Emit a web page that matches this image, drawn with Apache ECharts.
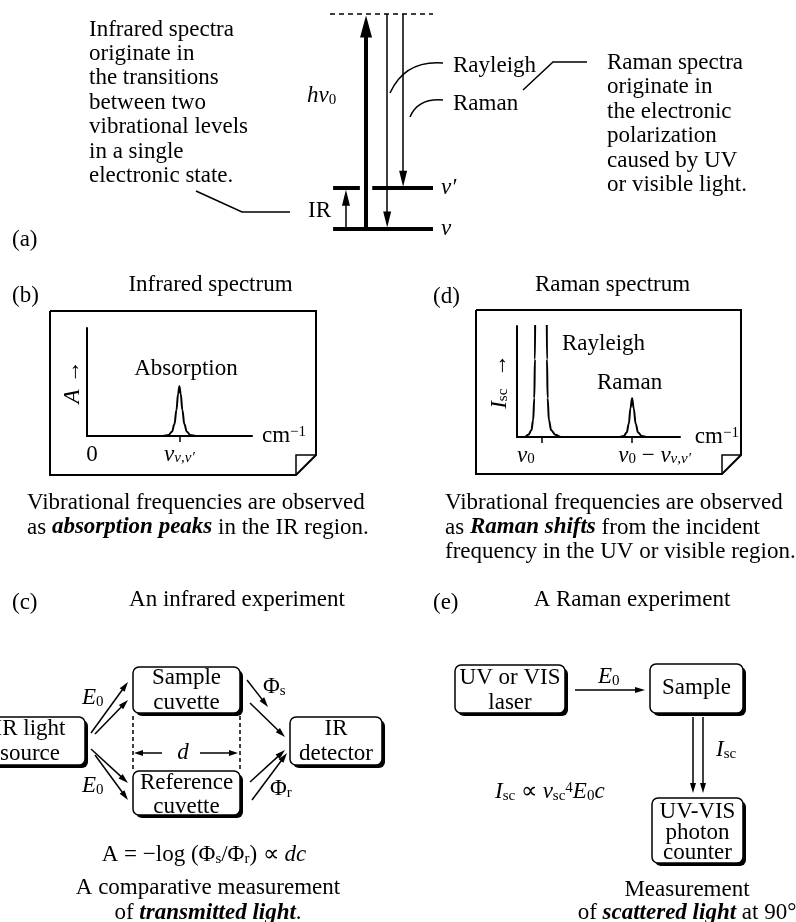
<!DOCTYPE html>
<html>
<head>
<meta charset="utf-8">
<script src="https://cdn.jsdelivr.net/npm/echarts@6/dist/echarts.min.js"></script>
<style>
	html, body { margin: 0; padding: 0; background: #fff; }
	#chart { width: 796px; height: 922px; }
</style>
</head>
<body>
<div id="chart"></div>
<script>
(function () {

	// (a) energy levels and transitions
	var levelNames  = ['ν', 'ν′', ''];
	var levelEnergy = [0, 1.9, 10];
	var transitionNames = ['IR', 'hν0', 'Rayleigh', 'Raman'];
	var transitionFrom  = [0, 0, 2, 2];
	var transitionTo    = [1, 2, 0, 1];

	// (b) infrared spectrum
	var irWavenumber  = [0, 46, 49.5, 51.5, 53, 54.2, 55.2, 56, 56.8, 57.8, 59, 60.5, 62.5, 66, 100];
	var irAbsorbance  = [0, 0, 0.01, 0.04, 0.11, 0.24, 0.39, 0.46, 0.39, 0.24, 0.11, 0.04, 0.01, 0, 0];
	var irPeaks       = [56];

	// (d) raman spectrum
	var ramanWavenumber = [0, 4.5, 7, 8.8, 9.9, 10.6, 11, 11.3, 14.7, 18.1, 18.4, 18.8, 19.6, 21, 23.5, 27,
		63, 65.5, 67.3, 68.6, 69.6, 70.6, 71.6, 72.8, 74.3, 76.5, 80, 100];
	var ramanIntensity  = [0, 0, 0.02, 0.06, 0.15, 0.35, 0.7, 1.5, 8, 1.5, 0.7, 0.35, 0.15, 0.06, 0.02, 0,
		0, 0.01, 0.04, 0.12, 0.26, 0.35, 0.26, 0.12, 0.04, 0.01, 0, 0];
	var ramanPeaks      = [15.3, 70.6];

	var FONT = '"Liberation Serif", "Times New Roman", serif';
	function f(size, style) { return (style ? style + ' ' : '') + size + 'px ' + FONT; }

	var RICH = {
		i:    { font: f(23, 'italic') },
		bi:   { font: f(23, 'italic bold') },
		sub:  { font: f(15), verticalAlign: 'bottom', lineHeight: 15 },
		isub: { font: f(15, 'italic'), verticalAlign: 'bottom', lineHeight: 15 },
		sup:  { font: f(15), verticalAlign: 'top', lineHeight: 15 }
	};
	var ERICH = {
		i:    { fontFamily: FONT, fontSize: 23, fontStyle: 'italic', color: '#000' },
		t:    { fontFamily: FONT, fontSize: 23, color: '#000' },
		sub:  { fontFamily: FONT, fontSize: 15, color: '#000', verticalAlign: 'bottom', lineHeight: 15 },
		isub: { fontFamily: FONT, fontSize: 15, fontStyle: 'italic', color: '#000', verticalAlign: 'bottom', lineHeight: 15 },
		sup:  { fontFamily: FONT, fontSize: 15, color: '#000', verticalAlign: 'top', lineHeight: 15 }
	};

	function txt(x, y, text, opt) {
		opt = opt || {};
		var st = { text: text, font: opt.font || f(23), fill: '#000',
			align: opt.align || 'left', verticalAlign: opt.va || 'middle', rich: RICH };
		if (opt.lh) st.lineHeight = opt.lh;
		return { type: 'text', x: x, y: y, style: st };
	}
	function pl(points, lw, dash) {
		return { type: 'polyline', shape: { points: points },
			style: { stroke: '#000', lineWidth: lw || 1.5, fill: null, lineDash: dash || null } };
	}
	function arrow(x1, y1, x2, y2, len, wid, lw) {
		len = len || 10; wid = wid || 6; lw = lw || 1.5;
		var dx = x2 - x1, dy = y2 - y1, d = Math.sqrt(dx * dx + dy * dy);
		var ux = dx / d, uy = dy / d;
		var bx = x2 - ux * len, by = y2 - uy * len;
		return [
			{ type: 'line', shape: { x1: x1, y1: y1, x2: bx + ux, y2: by + uy }, style: { stroke: '#000', lineWidth: lw } },
			{ type: 'polygon', shape: { points: [[x2, y2], [bx - uy * wid / 2, by + ux * wid / 2], [bx + uy * wid / 2, by - ux * wid / 2]] },
				style: { fill: '#000' } }
		];
	}
	function box(x1, y1, x2, y2) {
		return [
			{ type: 'rect', shape: { x: x1 + 3, y: y1 + 3, width: x2 - x1, height: y2 - y1, r: 6 }, style: { fill: '#000' } },
			{ type: 'rect', shape: { x: x1, y: y1, width: x2 - x1, height: y2 - y1, r: 6 }, style: { fill: '#fff', stroke: '#000', lineWidth: 1.5 } }
		];
	}

	// ---- energy level diagram data (grid 0) ----
	var PX_PER_E = 215 / 10;
	var levelSegs = [[[0.3, 10]], [[0.3, 2.9], [4.1, 10]], [[0, 10]]];
	var arrowSlot = [1.55, 3.5, 5.55, 7.1];
	var levelData = [];
	levelEnergy.forEach(function (e, i) {
		var segs = levelSegs[i];
		segs.forEach(function (s, k) {
			levelData.push({
				name: k === segs.length - 1 ? levelNames[i] : '',
				coords: [[s[0], e], [s[1], e]],
				lineStyle: i === 2 ? { width: 1.5, type: [5, 4] } : { width: 4 }
			});
		});
	});
	var thinData = [], thickData = [];
	transitionNames.forEach(function (t, i) {
		var thick = t === 'hν0';
		var y0 = levelEnergy[transitionFrom[i]], y1 = levelEnergy[transitionTo[i]];
		var dir = y1 > y0 ? 1 : -1;
		var half = (thick ? 11 : 8) / PX_PER_E;
		var item = { coords: [[arrowSlot[i], y0], [arrowSlot[i], y1 - dir * (half + 1.5 / PX_PER_E)]] };
		(thick ? thickData : thinData).push(item);
	});

	function pairs(xs, ys) { return xs.map(function (x, i) { return [x, ys[i]]; }); }

	// ---- graphic elements ----
	var g = [];
	// (a)
	g.push(txt(89, 17.3, 'Infrared spectra\noriginate in\nthe transitions\nbetween two\nvibrational levels\nin a single\nelectronic state.', { va: 'top', lh: 24.4 }));
	g.push(txt(607, 50.8, 'Raman spectra\noriginate in\nthe electronic\npolarization\ncaused by UV\nor visible light.', { va: 'top', lh: 24.4 }));
	g.push(pl([[196, 191], [242, 212], [290, 212]]));
	g.push(pl([[523, 90], [553, 62], [587, 62]]));
	g.push({ type: 'bezierCurve', shape: { x1: 443, y1: 63, x2: 390, y2: 93, cpx1: 405, cpy1: 60 }, style: { stroke: '#000', lineWidth: 1.5, fill: null } });
	g.push({ type: 'bezierCurve', shape: { x1: 443, y1: 100, x2: 410, y2: 117, cpx1: 418, cpy1: 98 }, style: { stroke: '#000', lineWidth: 1.5, fill: null } });
	g.push(txt(308, 211, 'IR'));
	g.push(txt(307, 96, '{i|hν}{sub|0}'));
	g.push(txt(453, 66, 'Rayleigh'));
	g.push(txt(453, 103.5, 'Raman'));
	g.push(txt(12, 240, '(a)'));

	// (b) and (d) frames and texts
	g.push(txt(12, 296, '(b)'));
	g.push(txt(433, 297, '(d)'));
	g.push(txt(210.5, 285, 'Infrared spectrum', { align: 'center' }));
	g.push(txt(612.5, 285, 'Raman spectrum', { align: 'center' }));
	g.push(pl([[50, 311], [316, 311], [316, 455], [296, 475], [50, 475], [50, 311]], 2));
	g.push(pl([[296, 475], [296, 455], [316, 455]], 1.5));
	g.push(pl([[476, 310], [741, 310], [741, 455], [722, 474], [476, 474], [476, 310]], 2));
	g.push(pl([[722, 474], [722, 455], [741, 455]], 1.5));
	g.push(txt(186, 369, 'Absorption', { align: 'center' }));
	g.push(txt(562, 344, 'Rayleigh'));
	g.push(txt(597, 383, 'Raman'));
	g.push(txt(27, 490.8, 'Vibrational frequencies are observed\nas {bi|absorption peaks} in the IR region.', { va: 'top', lh: 24.5 }));
	g.push(txt(445, 490.8, 'Vibrational frequencies are observed\nas {bi|Raman shifts} from the incident\nfrequency in the UV or visible region.', { va: 'top', lh: 24.5 }));

	// (c) infrared experiment
	g.push(txt(12, 603, '(c)'));
	g.push(txt(237, 600, 'An infrared experiment', { align: 'center' }));
	g = g.concat(box(133, 667, 240, 713), box(-20, 717, 85, 765), box(133, 771, 240, 815), box(290, 717, 382, 765));
	g.push(txt(186.5, 665.5, 'Sample\ncuvette', { align: 'center', va: 'top', lh: 25 }));
	g.push(txt(30, 716, 'IR light\nsource', { align: 'center', va: 'top', lh: 25 }));
	g.push(txt(186.5, 771, 'Reference\ncuvette', { align: 'center', va: 'top', lh: 24 }));
	g.push(txt(336, 716, 'IR\ndetector', { align: 'center', va: 'top', lh: 25 }));
	g.push(pl([[133, 716], [133, 771]], 1.5, [4, 3]));
	g.push(pl([[240, 716], [240, 771]], 1.5, [4, 3]));
	g = g.concat(arrow(162, 753, 134, 753, 9, 6), arrow(200, 753, 238, 753, 9, 6));
	g.push(txt(183, 753, '{i|d}', { align: 'center' }));
	g = g.concat(
		arrow(91, 733, 128, 682), arrow(95, 734, 128, 700),
		arrow(91, 749, 128, 783), arrow(95, 755, 128, 800),
		arrow(247, 680, 268, 707), arrow(250, 703, 285, 737),
		arrow(250, 782, 285, 750), arrow(252, 800, 287, 753)
	);
	g.push(txt(82, 698, '{i|E}{sub|0}'));
	g.push(txt(82, 786, '{i|E}{sub|0}'));
	g.push(txt(263, 687, 'Φ{sub|s}'));
	g.push(txt(270, 789, 'Φ{sub|r}'));
	g.push(txt(204, 855, 'A = −log (Φ{sub|s}/Φ{sub|r}) ∝ {i|dc}', { align: 'center' }));
	g.push(txt(208, 875.5, 'A comparative measurement\nof {bi|transmitted light}.', { align: 'center', va: 'top', lh: 25 }));

	// (e) raman experiment
	g.push(txt(433, 603, '(e)'));
	g.push(txt(632, 600, 'A Raman experiment', { align: 'center' }));
	g = g.concat(box(455, 665, 565, 713), box(650, 664, 743, 713), box(652, 798, 743, 863));
	g.push(txt(510, 665, 'UV or VIS\nlaser', { align: 'center', va: 'top', lh: 25 }));
	g.push(txt(696.5, 688, 'Sample', { align: 'center' }));
	g.push(txt(697.5, 802, 'UV-VIS\nphoton\ncounter', { align: 'center', va: 'top', lh: 20.5 }));
	g = g.concat(arrow(575, 690, 645, 690), arrow(693, 717, 693, 793), arrow(703, 717, 703, 793));
	g.push(txt(598, 677, '{i|E}{sub|0}'));
	g.push(txt(716, 750, '{i|I}{sub|sc}'));
	g.push(txt(495, 792, '{i|I}{sub|sc} ∝ {i|ν}{sub|sc}{sup|4}{i|E}{sub|0}{i|c}'));
	g.push(txt(687, 878.5, 'Measurement\nof {bi|scattered light} at 90°', { align: 'center', va: 'top', lh: 23 }));

	var axisBlack = { color: '#000', width: 2 };

	var chart = echarts.init(document.getElementById('chart'));
	chart.setOption({
		animation: false,
		backgroundColor: '#fff',
		grid: [
			{ left: 330, top: 14, width: 103, height: 215 },
			{ left: 87, top: 328, width: 165, height: 108 },
			{ left: 517, top: 326, width: 163, height: 111 }
		],
		xAxis: [
			{ gridIndex: 0, type: 'value', min: 0, max: 10, show: false },
			{
				gridIndex: 1, type: 'value', min: 0, max: 100,
				axisLine: { show: true, onZero: false, lineStyle: axisBlack },
				axisTick: { show: true, customValues: irPeaks, length: 6, lineStyle: { color: '#000', width: 1.5 } },
				axisLabel: {
					show: true, customValues: [3, irPeaks[0]], margin: 7, rich: ERICH,
					formatter: function (v) { return v === 3 ? '{t|0}' : '{i|ν}{isub|ν,ν′}'; }
				},
				splitLine: { show: false },
				name: '{t|cm}{sup|−1}', nameLocation: 'end', nameGap: 10,
				nameTextStyle: { rich: ERICH, verticalAlign: 'middle' }
			},
			{
				gridIndex: 2, type: 'value', min: 0, max: 100,
				axisLine: { show: true, onZero: false, lineStyle: axisBlack },
				axisTick: { show: true, customValues: ramanPeaks, length: 6, lineStyle: { color: '#000', width: 1.5 } },
				axisLabel: {
					show: true, customValues: [5.5, 84.4], margin: 7, rich: ERICH,
					formatter: function (v) { return v < 50 ? '{i|ν}{sub|0}' : '{i|ν}{sub|0}{t| − }{i|ν}{isub|ν,ν′}'; }
				},
				splitLine: { show: false },
				name: '{t|cm}{sup|−1}', nameLocation: 'end', nameGap: 10,
				nameTextStyle: { rich: ERICH, verticalAlign: 'middle' }
			}
		],
		yAxis: [
			{ gridIndex: 0, type: 'value', min: 0, max: 10, show: false },
			{
				gridIndex: 1, type: 'value', min: 0, max: 1,
				axisLine: { show: true, lineStyle: axisBlack },
				axisTick: { show: false }, axisLabel: { show: false }, splitLine: { show: false },
				name: '{i|A}{t| →}', nameLocation: 'middle', nameGap: 3,
				nameTextStyle: { rich: ERICH }
			},
			{
				gridIndex: 2, type: 'value', min: 0, max: 1,
				axisLine: { show: true, lineStyle: axisBlack },
				axisTick: { show: false }, axisLabel: { show: false }, splitLine: { show: false },
				name: '{i|I}{sub|sc}{t|  →}', nameLocation: 'middle', nameGap: 6,
				nameTextStyle: { rich: ERICH }
			}
		],
		series: [
			{
				type: 'lines', coordinateSystem: 'cartesian2d', xAxisIndex: 0, yAxisIndex: 0,
				clip: false,
				symbol: 'none', lineStyle: { color: '#000', opacity: 1 },
				label: {
					show: true, position: 'end', distance: 8, color: '#000',
					fontFamily: FONT, fontSize: 23, fontStyle: 'italic',
					formatter: function (p) { return p.name || ''; }
				},
				data: levelData
			},
			{
				type: 'lines', coordinateSystem: 'cartesian2d', xAxisIndex: 0, yAxisIndex: 0,
				clip: false,
				symbol: ['none', 'triangle'], symbolSize: [1, [8, 16]],
				lineStyle: { color: '#000', width: 1.5, opacity: 1 },
				data: thinData
			},
			{
				type: 'lines', coordinateSystem: 'cartesian2d', xAxisIndex: 0, yAxisIndex: 0,
				clip: false,
				symbol: ['none', 'triangle'], symbolSize: [1, [12, 22]],
				lineStyle: { color: '#000', width: 4, opacity: 1 },
				data: thickData
			},
			{
				type: 'line', xAxisIndex: 1, yAxisIndex: 1, data: pairs(irWavenumber, irAbsorbance),
				symbol: 'none', smooth: 0.4, smoothMonotone: 'x', clip: true,
				lineStyle: { color: '#000', width: 2 }
			},
			{
				type: 'line', xAxisIndex: 2, yAxisIndex: 2, data: pairs(ramanWavenumber, ramanIntensity),
				symbol: 'none', smooth: 0.4, smoothMonotone: 'x', clip: true,
				lineStyle: { color: '#000', width: 2 }
			}
		],
		graphic: { elements: g }
	});

})();
</script>
</body>
</html>
